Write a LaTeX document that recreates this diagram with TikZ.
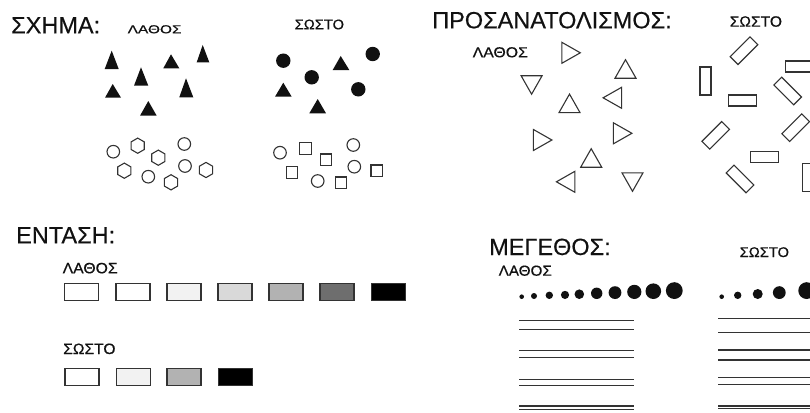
\documentclass[tikz,border=0pt]{standalone}
\usepackage{fontspec}
\setmainfont{Liberation Sans}
\newfontfamily\labfont[FakeBold=0.5]{Liberation Sans}
\newfontfamily\hdrfont[FakeBold=0.3]{Liberation Sans}
\usepackage{graphicx}
\newcommand\mylab[3]{\scalebox{#1}[1]{\labfont\fontsize{#2}{#2}\selectfont #3}}
\definecolor{ink}{HTML}{111111}
\definecolor{edge}{HTML}{333333}
\begin{document}
\begin{tikzpicture}[x=1pt,y=-1pt,
  hdr/.style={anchor=base west,inner sep=0pt,text=ink,font=\hdrfont\fontsize{23.5}{24}\selectfont},
  lbl/.style={anchor=base west,inner sep=0pt,text=ink},
  solid shape/.style={fill=ink},
  hollow/.style={draw=edge,line width=1.1pt},
  sq/.style={draw=edge,line width=1.1pt,minimum size=11.5pt,inner sep=0pt},
  bar/.style={draw=edge,line width=1.1pt,minimum width=28pt,minimum height=11pt,inner sep=0pt},
  tone/.style={draw=edge,line width=1.1pt,minimum width=34pt,minimum height=17pt,inner sep=0pt,fill=#1},
  rule/.style={draw=edge,line width=1.1pt},
  htri/.pic={\draw[hollow] (-10.5,6.2) -- (10.5,6.2) -- (0,-12.3) -- cycle;},
  hexa/.pic={\draw[hollow] (90:7.6) -- (30:7.6) -- (-30:7.6) -- (-90:7.6) -- (-150:7.6) -- (150:7.6) -- cycle;}
]
\useasboundingbox (0,0) rectangle (810,412);

% ---------- ΣΧΗΜΑ ----------
\node[hdr] (t1) at (11,33.3) {ΣΧΗΜΑ:};
\node[lbl] (l1) at (127.5,33.3) {\mylab{1.33}{11.6}{ΛΑΘΟΣ}};
\node[lbl] (s1) at (294.5,29.3) {\mylab{1.05}{14}{ΣΩΣΤΟ}};

% wrong: filled triangles
\fill[solid shape] (111.7,50.7) -- (104.7,69) -- (118.7,69) -- cycle;
\fill[solid shape] (141,67.3) -- (134,85.7) -- (148.3,85.7) -- cycle;
\fill[solid shape] (112.7,84) -- (105,97.7) -- (121,97.7) -- cycle;
\fill[solid shape] (171,54.3) -- (163.3,68.3) -- (179.3,68.3) -- cycle;
\fill[solid shape] (202.7,45) -- (196.7,62.3) -- (209.3,62.3) -- cycle;
\fill[solid shape] (186,78.3) -- (179.3,97.3) -- (193.3,97.3) -- cycle;
\fill[solid shape] (148.3,101) -- (140,115.7) -- (156.7,115.7) -- cycle;
% right: filled circles and triangles
\fill[solid shape] (283.3,60.7) circle (7.2);
\fill[solid shape] (311.7,77.3) circle (7.2);
\fill[solid shape] (372.7,54) circle (7.2);
\fill[solid shape] (358.3,89.3) circle (7.2);
\fill[solid shape] (340.7,56) -- (332.7,70) -- (349.3,70) -- cycle;
\fill[solid shape] (283.3,82.7) -- (275,96.7) -- (291.7,96.7) -- cycle;
\fill[solid shape] (317.7,99) -- (309.3,113.3) -- (326,113.3) -- cycle;

% wrong: hollow circles and hexagons
\draw[hollow] (113.3,151.7) circle (6.3);
\draw[hollow] (184.3,144) circle (6.3);
\draw[hollow] (148.3,176.7) circle (6.3);
\draw[hollow] (185,166) circle (6.3);
\pic at (137.7,145.7) {hexa};
\pic at (158.3,157.7) {hexa};
\pic at (124.3,170.7) {hexa};
\pic at (171,182.3) {hexa};
\pic at (206,170) {hexa};
% right: hollow circles and squares
\draw[hollow] (280,152.7) circle (6.3);
\draw[hollow] (353.3,145) circle (6.3);
\draw[hollow] (317.7,181) circle (6.3);
\draw[hollow] (354.3,166.7) circle (6.3);
\node[sq] (q1) at (305.3,148.3) {};
\node[sq] (q2) at (326,159.7) {};
\node[sq] (q3) at (292,172.5) {};
\node[sq] (q4) at (376.7,170.7) {};
\node[sq] (q5) at (340.8,182.7) {};

% ---------- ΠΡΟΣΑΝΑΤΟΛΙΣΜΟΣ ----------
\node[hdr] (t2) at (432,28.3) {ΠΡΟΣΑΝΑΤΟΛΙΣΜΟΣ:};
\node[lbl] (s2) at (729.5,26.7) {\mylab{1.04}{15}{ΣΩΣΤΟ}};
\node[lbl] (l2) at (472.5,57.3) {\mylab{1.09}{14.5}{ΛΑΘΟΣ}};

\pic[rotate=-90] at (568,52.8) {htri};
\pic at (625.5,72) {htri};
\pic[rotate=180] at (531.6,81.9) {htri};
\pic at (569.5,106.4) {htri};
\pic[rotate=90] at (615.4,97.8) {htri};
\pic[rotate=-90] at (539.6,140) {htri};
\pic[rotate=-90] at (619.6,133.3) {htri};
\pic at (591.2,161) {htri};
\pic[rotate=90] at (568.7,181.8) {htri};
\pic[rotate=180] at (632.5,179) {htri};

\node[bar,rotate=45] (r1) at (744,50.7) {};
\node[bar] (r2) at (799.5,66.5) {};
\node[bar,rotate=90] (r3) at (705.5,81) {};
\node[bar,rotate=-45] (r4) at (787.7,91) {};
\node[bar] (r5) at (742.5,100.5) {};
\node[bar,rotate=45] (r6) at (715.7,135.3) {};
\node[bar,rotate=45] (r7) at (795.7,127.7) {};
\node[bar] (r8) at (764.5,157) {};
\node[bar,rotate=-45] (r9) at (740,179) {};
\node[bar,rotate=90] (r10) at (808,177.5) {};

% ---------- ΕΝΤΑΣΗ ----------
\node[hdr] (t3) at (16,243.3) {ΕΝΤΑΣΗ:};
\node[lbl] (l3) at (62.5,273.3) {\mylab{1.05}{15}{ΛΑΘΟΣ}};
\node[lbl] (s3) at (63,354) {\mylab{1.04}{15}{ΣΩΣΤΟ}};

\node[tone=white] (a1) at (81.5,292) {};
\node[tone=white] (a2) at (133,292) {};
\node[tone={black!5}] (a3) at (184,292) {};
\node[tone={black!15}] (a4) at (235,292) {};
\node[tone={black!30}] (a5) at (286,292) {};
\node[tone={black!57}] (a6) at (337,292) {};
\node[tone=black] (a7) at (388.5,292) {};

\node[tone=white] (b1) at (82,377) {};
\node[tone={black!5}] (b2) at (133.5,377) {};
\node[tone={black!30}] (b3) at (184,377) {};
\node[tone=black] (b4) at (235.5,377) {};

% ---------- ΜΕΓΕΘΟΣ ----------
\node[hdr] (t4) at (489,255) {ΜΕΓΕΘΟΣ:};
\node[lbl] (l4) at (498.5,275.7) {\mylab{1.05}{14.5}{ΛΑΘΟΣ}};
\node[lbl] (s4) at (739.5,257) {\mylab{1.05}{14}{ΣΩΣΤΟ}};

\foreach \cx/\r in {521.7/2.3, 534/3, 549.3/3.7, 565/4.1, 579.3/4.8, 596.7/5.7, 615/6.4, 634.3/7.1, 653.3/7.8, 674.3/8.4}
  \fill[solid shape] (\cx,299-\r) circle (\r);
\foreach \cx/\r in {721.7/2.3, 737.7/3.7, 757.7/5, 779.3/6.4, 806.7/8.4}
  \fill[solid shape] (\cx,299-\r) circle (\r);

\foreach \yy in {320.7,329.3,350.7,357.3,379.3,385.7,406,409.6}
  \draw[rule] (519,\yy) -- (634,\yy);
\foreach \yy in {318.3,332.7,350,360,377.3,384.3,406,408.6}
  \draw[rule] (718,\yy) -- (812,\yy);
\end{tikzpicture}
\end{document}
